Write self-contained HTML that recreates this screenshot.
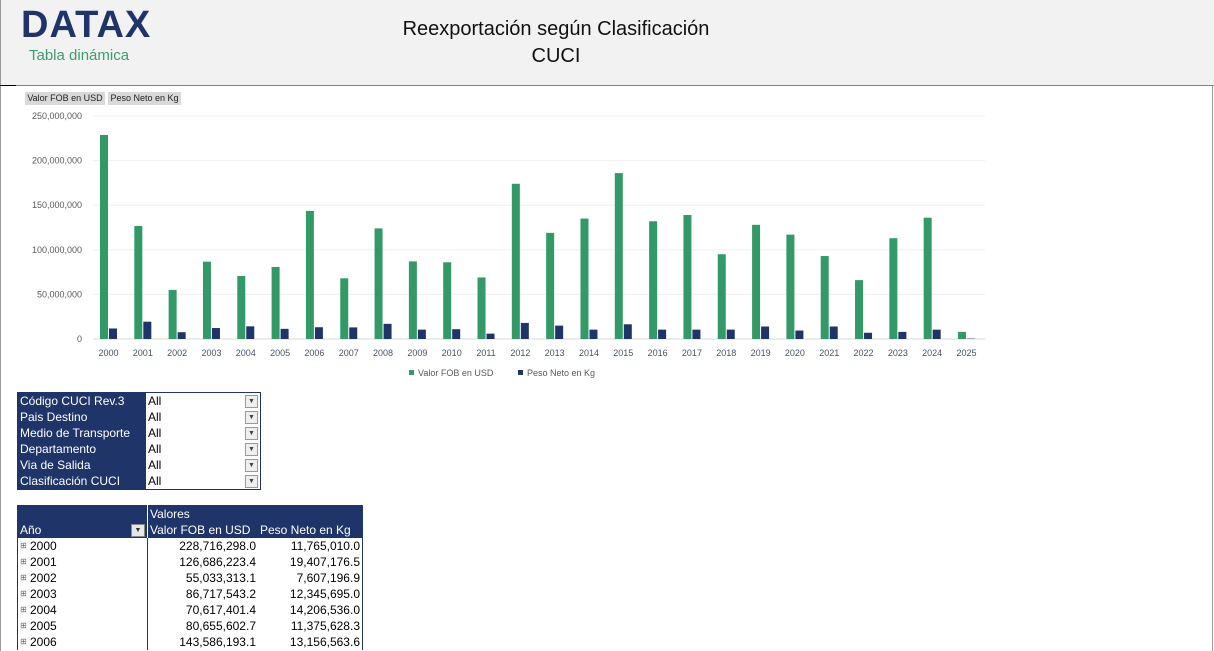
<!DOCTYPE html>
<html><head><meta charset="utf-8"><style>
body{margin:0;width:1214px;height:651px;overflow:hidden;background:#fff;font-family:"Liberation Sans","DejaVu Sans",sans-serif;position:relative}
#hdr{position:absolute;left:0;top:0;width:1214px;height:85px;background:#f2f2f2;border-bottom:1px solid #808080}
.abs{position:absolute}
table{border-collapse:collapse;font-size:12px;line-height:16px}
td{padding:0 2px;height:16px;line-height:16px;white-space:nowrap;vertical-align:top}
.ic{display:inline-block;width:10px;height:16px;line-height:16px;font-size:8px;color:#666;vertical-align:top}
</style></head><body>
<div id="hdr"></div>
<div class="abs" style="left:0;top:0;width:1px;height:651px;background:#999"></div>
<div class="abs" style="left:1212px;top:86px;width:1px;height:565px;background:#999"></div>
<div class="abs" style="left:0;top:85px;width:16px;height:1px;background:#000"></div>
<div class="abs" style="left:21px;top:4px;font-size:38px;font-weight:bold;color:#1f3468;letter-spacing:1px">DATAX</div>
<div class="abs" style="left:29px;top:47px;font-size:15px;color:#3a9e72">Tabla dinámica</div>
<div class="abs" style="left:300px;top:16px;width:512px;text-align:center;font-size:20px;line-height:27px;color:#111">Reexportación según Clasificación<br>CUCI</div>
<div class="abs" style="left:25px;top:92px;width:80px;height:13px;background:#d9d9d9;font-size:9px;line-height:13px;text-align:center;color:#222">Valor FOB en USD</div>
<div class="abs" style="left:108px;top:92px;width:73px;height:13px;background:#d9d9d9;font-size:9px;line-height:13px;text-align:center;color:#222">Peso Neto en Kg</div>
<svg class="abs" style="left:0;top:0" width="1214" height="390" id="ch"></svg>
<table class="abs" style="left:17px;top:392px;border:1px solid #1f3468">
<tbody id="flt"></tbody></table>
<table class="abs" style="left:17px;top:505px;border:1px solid #1f3468;border-bottom:none">
<tr style="background:#1f3468;color:#fff"><td style="width:125px"></td><td style="width:106px;border-left:1px solid #fff">Valores</td><td style="width:100px"></td></tr>
<tr style="background:#1f3468;color:#fff"><td>Año<span style="float:right;width:12px;height:11px;margin-top:2px;background:#e8e8e8;border:1px solid #888;color:#333;font-size:7px;line-height:11px;text-align:center">▼</span></td><td style="border-left:1px solid #fff">Valor FOB en USD</td><td>Peso Neto en Kg</td></tr>
<tbody id="pv"></tbody></table>
<script>
var g=[228.7,126.7,55.0,86.7,70.6,80.7,143.6,68,124,87,86,69,174,119,135,186,132,139,95,128,117,93,66,113,136,8];
var n=[11.8,19.4,7.6,12.3,14.2,11.4,13.2,13,17,10.5,11,6,18,15,10.5,16.5,10.5,10.5,10.5,14,9.5,14,7,8,10.5,1];
var s='',k=0.892,b=339;
for(var i=0;i<=5;i++){var y=b-i*50*k;s+='<line x1="93" x2="985" y1="'+y+'" y2="'+y+'" stroke="'+(i?'#f0f0f0':'#d9d9d9')+'"/>';
s+='<text x="82" y="'+(y+3)+'" text-anchor="end" font-size="9" fill="#595959">'+(i?(i*50)+',000,000':'0')+'</text>';}
for(var i=0;i<26;i++){var x=100+i*34.32;
s+='<rect x="'+x+'" y="'+(b-g[i]*k)+'" width="8" height="'+(g[i]*k)+'" fill="#339966"/>';
s+='<rect x="'+(x+9)+'" y="'+(b-n[i]*k)+'" width="8" height="'+(n[i]*k)+'" fill="'+(i==25?'#9aa3c0':'#1f3468')+'"/>';
s+='<text x="'+(x+8.5)+'" y="356" text-anchor="middle" font-size="9" fill="#44546a">'+(2000+i)+'</text>';}
s+='<rect x="409" y="370" width="5" height="5" fill="#339966"/><text x="418" y="376" font-size="9" fill="#595959">Valor FOB en USD</text>';
s+='<rect x="518" y="370" width="5" height="5" fill="#1f3468"/><text x="527" y="376" font-size="9" fill="#595959">Peso Neto en Kg</text>';
document.getElementById('ch').innerHTML=s;
var f=['Código CUCI Rev.3','Pais Destino','Medio de Transporte','Departamento','Via de Salida','Clasificación CUCI'],h='';
f.forEach(function(t){h+='<tr><td style="background:#1f3468;color:#fff;width:124px">'+t+'</td><td style="width:110px">All<span style="float:right;width:11px;height:11px;margin-top:2px;background:#eee;border:1px solid #999;font-size:7px;line-height:11px;text-align:center;color:#444">▼</span></td></tr>';});
document.getElementById('flt').innerHTML=h;
var r=[['2000','228,716,298.0','11,765,010.0'],['2001','126,686,223.4','19,407,176.5'],['2002','55,033,313.1','7,607,196.9'],['2003','86,717,543.2','12,345,695.0'],['2004','70,617,401.4','14,206,536.0'],['2005','80,655,602.7','11,375,628.3'],['2006','143,586,193.1','13,156,563.6']];h='';
r.forEach(function(a){h+='<tr><td><span class="ic">⊞</span>'+a[0]+'</td><td style="text-align:right;border-left:1px solid #1f3468">'+a[1]+'</td><td style="text-align:right">'+a[2]+'</td></tr>';});
document.getElementById('pv').innerHTML=h;
</script>
</body></html>
